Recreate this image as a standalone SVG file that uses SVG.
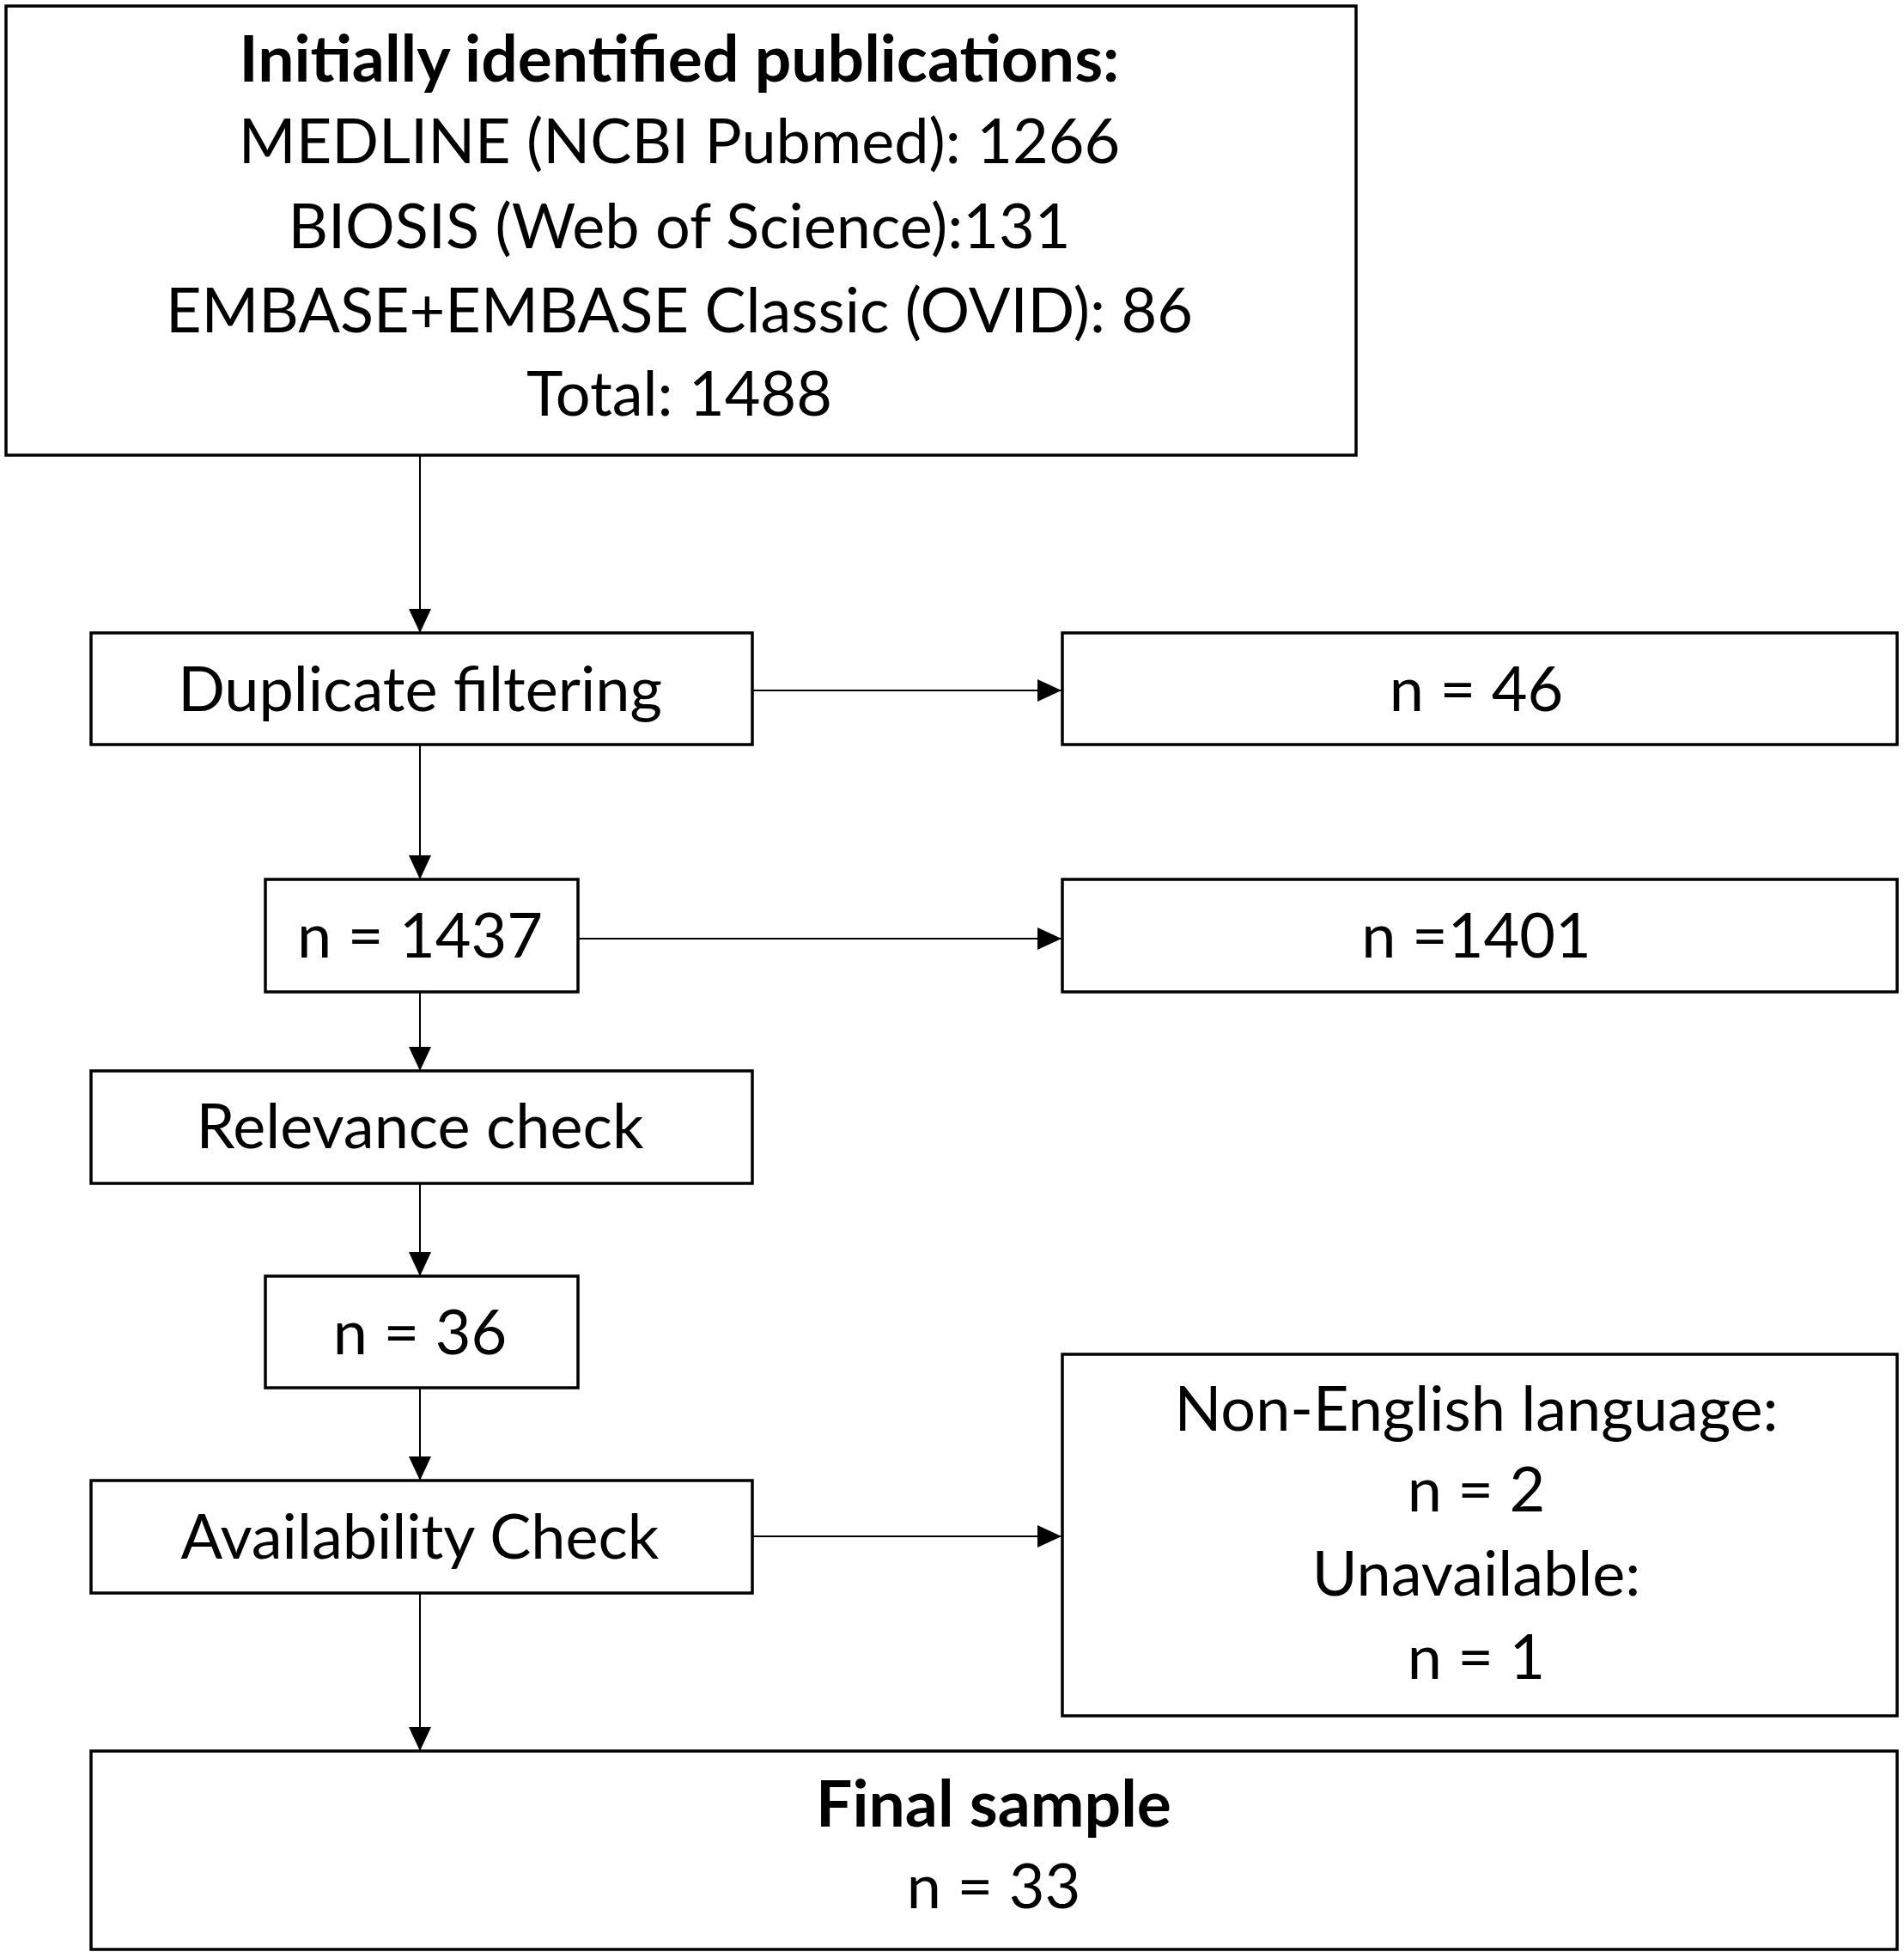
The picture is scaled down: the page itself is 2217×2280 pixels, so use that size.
<svg xmlns="http://www.w3.org/2000/svg" width="2217" height="2280" viewBox="0 0 2217 2280">
<defs>
<marker id="ah" markerUnits="userSpaceOnUse" markerWidth="30" markerHeight="28" refX="28" refY="13" orient="auto">
<path d="M0,0 L28,13 L0,26 Z" fill="#000"/>
</marker>
<style>
.box{fill:#fff;stroke:#000;stroke-width:3.5}
.t{font-family:Lato,"Open Sans","Liberation Sans",sans-serif;font-size:72px;fill:#000;text-anchor:middle}
.b{font-weight:bold;font-size:75px}
.c{stroke:#000;stroke-width:2;fill:none;marker-end:url(#ah)}
</style>
</defs>
<rect width="2217" height="2280" fill="#fff"/>
<g id="connectors">
<line class="c" x1="489" y1="530" x2="489" y2="737"/>
<line class="c" x1="489" y1="867" x2="489" y2="1024"/>
<line class="c" x1="489" y1="1155" x2="489" y2="1247"/>
<line class="c" x1="489" y1="1378" x2="489" y2="1486"/>
<line class="c" x1="489" y1="1616" x2="489" y2="1724"/>
<line class="c" x1="489" y1="1855" x2="489" y2="2039"/>
<line class="c" x1="876" y1="804" x2="1236" y2="804"/>
<line class="c" x1="673" y1="1093" x2="1236" y2="1093"/>
<line class="c" x1="876" y1="1789" x2="1236" y2="1789"/>
</g>
<g id="initial">
<rect class="box" x="7" y="7" width="1572" height="523"/>
<text class="t b" x="791" y="95">Initially identified publications:</text>
<text class="t" x="791" y="190">MEDLINE (NCBI Pubmed): 1266</text>
<text class="t" x="791" y="289">BIOSIS (Web of Science):131</text>
<text class="t" x="791" y="387">EMBASE+EMBASE Classic (OVID): 86</text>
<text class="t" x="791" y="484">Total: 1488</text>
</g>
<g id="duplicate">
<rect class="box" x="106" y="737" width="770" height="130"/>
<text class="t" x="489" y="828">Duplicate filtering</text>
</g>
<g id="n46">
<rect class="box" x="1237" y="737" width="972" height="130"/>
<text class="t" x="1719" y="828">n = 46</text>
</g>
<g id="n1437">
<rect class="box" x="309" y="1024" width="364" height="131"/>
<text class="t" x="489" y="1115">n = 1437</text>
</g>
<g id="n1401">
<rect class="box" x="1237" y="1024" width="972" height="131"/>
<text class="t" x="1719" y="1115">n =1401</text>
</g>
<g id="relevance">
<rect class="box" x="106" y="1247" width="770" height="131"/>
<text class="t" x="489" y="1337">Relevance check</text>
</g>
<g id="n36">
<rect class="box" x="309" y="1486" width="364" height="130"/>
<text class="t" x="489" y="1577">n = 36</text>
</g>
<g id="availability">
<rect class="box" x="106" y="1724" width="770" height="131"/>
<text class="t" x="489" y="1815">Availability Check</text>
</g>
<g id="excluded">
<rect class="box" x="1237" y="1577" width="972" height="421"/>
<text class="t" x="1719" y="1666">Non-English language:</text>
<text class="t" x="1719" y="1760">n = 2</text>
<text class="t" x="1719" y="1858">Unavailable:</text>
<text class="t" x="1719" y="1955">n = 1</text>
</g>
<g id="final">
<rect class="box" x="106" y="2039" width="2103" height="231"/>
<text class="t b" x="1157" y="2127">Final sample</text>
<text class="t" x="1157" y="2222">n = 33</text>
</g>
</svg>
